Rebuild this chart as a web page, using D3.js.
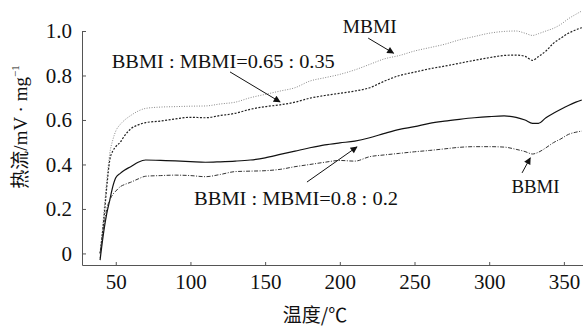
<!DOCTYPE html>
<html>
<head>
<meta charset="utf-8">
<script src="https://cdn.jsdelivr.net/npm/d3@7"></script>
<style>
  body { margin: 0; background: #fff; }
  svg { display: block; }
  .serif { font-family: "Liberation Serif", "DejaVu Serif", "Times New Roman", serif; }
</style>
</head>
<body>
<div id="chart"></div>
<script>
// temperature samples (℃) shared by all curves
var temps = [39.5, 42, 44, 46, 48, 50, 53, 56, 60, 65, 70, 80, 90, 100, 110, 120, 130, 140, 150, 160,
             170, 180, 190, 200, 210, 220, 230, 240, 250, 260, 270, 280, 290, 300, 310, 318, 324, 329, 333,
             338, 343, 348, 353, 358, 362];

// heat flow (mV/mg)
var mbmi = [-0.02, 0.18, 0.33, 0.45, 0.51, 0.55, 0.58, 0.60, 0.62, 0.64, 0.652, 0.658, 0.66, 0.662, 0.663, 0.672,
            0.68, 0.70, 0.715, 0.73, 0.745, 0.775, 0.79, 0.805, 0.825, 0.85, 0.875, 0.89, 0.91, 0.925, 0.94,
            0.96, 0.975, 0.99, 0.998, 1.0, 0.99, 0.98, 0.988, 1.0, 1.012, 1.03, 1.055, 1.075, 1.09];
var mix65 = [0.0, 0.15, 0.30, 0.42, 0.46, 0.48, 0.50, 0.53, 0.56, 0.578, 0.588, 0.595, 0.605, 0.612, 0.61, 0.62,
             0.63, 0.648, 0.66, 0.668, 0.68, 0.698, 0.71, 0.72, 0.73, 0.745, 0.775, 0.80, 0.815, 0.83, 0.842,
             0.855, 0.868, 0.88, 0.89, 0.892, 0.886, 0.868, 0.885, 0.91, 0.945, 0.968, 0.99, 1.005, 1.015];
var mix80 = [-0.03, 0.10, 0.18, 0.24, 0.30, 0.34, 0.36, 0.375, 0.39, 0.41, 0.42, 0.418, 0.416, 0.413, 0.41, 0.412,
             0.415, 0.42, 0.43, 0.445, 0.46, 0.475, 0.488, 0.497, 0.505, 0.52, 0.54, 0.558, 0.57, 0.585, 0.595,
             0.603, 0.61, 0.615, 0.618, 0.612, 0.60, 0.585, 0.585, 0.61, 0.63, 0.648, 0.665, 0.68, 0.69];
var bbmi = [0.0, 0.12, 0.20, 0.24, 0.265, 0.28, 0.30, 0.31, 0.32, 0.335, 0.347, 0.35, 0.352, 0.35, 0.345, 0.355,
            0.368, 0.37, 0.372, 0.378, 0.39, 0.40, 0.41, 0.418, 0.415, 0.435, 0.443, 0.45, 0.457, 0.463, 0.47,
            0.477, 0.48, 0.48, 0.478, 0.468, 0.458, 0.447, 0.455, 0.475, 0.498, 0.515, 0.535, 0.545, 0.55];

var xTicks = [50, 100, 150, 200, 250, 300, 350];
var yTicks = [0, 0.2, 0.4, 0.6, 0.8, 1.0];

// annotations: label text + label anchor and arrow ends, in data units
var notes = [
  {text: "MBMI", tx: 220, ty: 0.99, x1: 219, y1: 0.968, x2: 236, y2: 0.90, len: 54},
  {text: "BBMI : MBMI=0.65 : 0.35", tx: 122, ty: 0.834, x1: 126.5, y1: 0.816, x2: 160, y2: 0.681, len: 223},
  {text: "BBMI : MBMI=0.8 : 0.2", tx: 170.7, ty: 0.218, x1: 178, y1: 0.321, x2: 211.5, y2: 0.479, len: 204},
  {text: "BBMI", tx: 331, ty: 0.272, x1: 322, y1: 0.362, x2: 327.5, y2: 0.43, len: 48}
];

var margin = {top: 31, right: 0, bottom: 61, left: 82},
    width = 583 - margin.left - margin.right,
    height = 326 - margin.top - margin.bottom;

var svg = d3.select("#chart")
  .append("svg")
    .attr("width", 583)
    .attr("height", 326)
  .append("g")
    .attr("transform", "translate(" + margin.left + "," + margin.top + ")");

var x = d3.scaleLinear().domain([27.4, 362.8]).range([0, width]);
var y = d3.scaleLinear().domain([-0.052, 1.0]).range([height, 0]);

// x axis
var gx = svg.append("g")
    .attr("transform", "translate(0," + height + ")")
    .call(d3.axisBottom(x).tickValues(xTicks).tickSizeInner(-3).tickSizeOuter(0).tickPadding(9));
gx.attr("font-family", null).attr("font-size", null);
gx.selectAll("text").attr("class", "serif").style("font-size", "21px").attr("fill", "#111");

// y axis
var gy = svg.append("g")
    .call(d3.axisLeft(y).tickValues(yTicks).tickSizeInner(-4).tickSizeOuter(0).tickPadding(10)
      .tickFormat(function(d){ return d === 0 ? "0" : d3.format(".1f")(d); }));
gy.attr("font-family", null).attr("font-size", null);
gy.selectAll("text").attr("class", "serif").style("font-size", "21px").attr("fill", "#111");

svg.selectAll(".domain, .tick line").attr("stroke", "#555").attr("stroke-width", 1);

// curves
var series = [
  {vals: mbmi,  color: "#8a8a8a", width: 1,   dash: "1,1.5"},
  {vals: mix65, color: "#222",    width: 1.2, dash: "2,1.5"},
  {vals: mix80, color: "#111",    width: 1.2, dash: null},
  {vals: bbmi,  color: "#333",    width: 1,   dash: "4,1.5,1,1.5"}
];

var line = d3.line()
    .x(function(d){ return x(d[0]); })
    .y(function(d){ return y(d[1]); })
    .curve(d3.curveMonotoneX);

series.forEach(function(s){
  svg.append("path")
    .datum(temps.map(function(t, i){ return [t, s.vals[i]]; }))
    .attr("d", line)
    .attr("fill", "none")
    .attr("stroke", s.color)
    .attr("stroke-width", s.width)
    .attr("stroke-dasharray", s.dash);
});

// arrow head
svg.append("defs").append("marker")
    .attr("id", "arrow")
    .attr("viewBox", "0 0 10 10")
    .attr("refX", 9).attr("refY", 5)
    .attr("markerWidth", 9).attr("markerHeight", 7)
    .attr("markerUnits", "userSpaceOnUse")
    .attr("orient", "auto")
  .append("path")
    .attr("d", "M0,0 L10,5 L0,10 z")
    .attr("fill", "#111");

svg.selectAll(".note-line")
  .data(notes)
  .enter()
  .append("line")
    .attr("x1", function(d){ return x(d.x1); })
    .attr("y1", function(d){ return y(d.y1); })
    .attr("x2", function(d){ return x(d.x2); })
    .attr("y2", function(d){ return y(d.y2); })
    .attr("stroke", "#111")
    .attr("stroke-width", 1)
    .attr("marker-end", "url(#arrow)");

svg.selectAll(".note-text")
  .data(notes)
  .enter()
  .append("text")
    .attr("class", "serif")
    .attr("x", function(d){ return x(d.tx); })
    .attr("y", function(d){ return y(d.ty); })
    .attr("text-anchor", "middle")
    .attr("textLength", function(d){ return d.len; })
    .attr("lengthAdjust", "spacingAndGlyphs")
    .style("font-size", "19px")
    .attr("fill", "#111")
    .text(function(d){ return d.text; });

// x label
svg.append("text")
    .attr("x", 315 - margin.left)
    .attr("y", height + 57)
    .attr("text-anchor", "middle")
    .style("font-family", "'Noto Sans CJK SC', sans-serif")
    .style("font-size", "19px")
    .attr("fill", "#111")
    .text("温度/℃");

// y label
var yl = svg.append("text")
    .attr("transform", "translate(" + (27 - margin.left) + "," + (127 - margin.top) + ") rotate(-90)")
    .attr("text-anchor", "middle")
    .style("font-size", "19px")
    .attr("fill", "#111");
yl.append("tspan").style("font-family", "'Noto Sans CJK SC', sans-serif").text("热流");
yl.append("tspan").attr("class", "serif").text("/mV · mg");
yl.append("tspan").attr("class", "serif").style("font-size", "11px")
    .attr("dy", -8).text("−1");
</script>
</body>
</html>
